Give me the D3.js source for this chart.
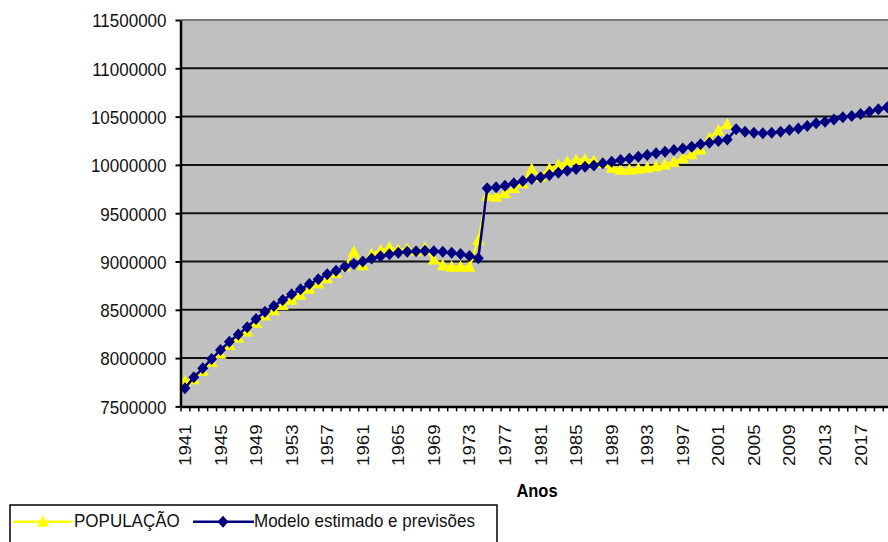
<!DOCTYPE html>
<html><head><meta charset="utf-8">
<script src="https://cdn.jsdelivr.net/npm/d3@7"></script>
<style>html,body{margin:0;padding:0;background:#fff;}svg{display:block;}</style>
</head><body>
<svg id="c" width="888" height="542"></svg>
<script>
const years = d3.range(1941, 2021);
const populacao = [7760,7780,7870,7960,8045,8135,8210,8275,8365,8440,8495,8550,8605,8657,8717,8771,8827,8880,8950,9100,
  8960,9075,9115,9145,9120,9130,9110,9140,9020,8960,8945,8945,8945,9220,9680,9670,9706,9760,9810,9957,
  9877,9964,9998,10033,10050,10055,10040,10020,9970,9950,9950,9960,9970,9985,10005,10030,10070,10110,10160,10275,
  10355,10420].map(v => v * 1000);
const modelo = [7687,7801,7894,7990,8084,8170,8245,8320,8405,8480,8540,8601,8660,8712,8767,8816,8867,8905,8947,8974,
  9000,9030,9055,9075,9090,9100,9107,9110,9107,9100,9090,9077,9057,9033,9757,9768,9785,9809,9833,9854,
  9871,9895,9919,9940,9957,9981,9993,10016,10033,10050,10067,10085,10103,10120,10137,10154,10171,10188,10213,10230,
  10247,10264,10368,10344,10334,10327,10334,10344,10361,10378,10402,10430,10447,10471,10492,10506,10527,10550,10575,10596].map(v => v * 1000);
const yTicks = [7500000,8000000,8500000,9000000,9500000,10000000,10500000,11000000,11500000];
const xLabelYears = years.filter((y, i) => i % 4 === 0 && y <= 2017);
const seriesNames = ["POPULAÇÃO", "Modelo estimado e previsões"];
const axisTitle = "Anos";

const SY = 1.1;
const FONT = "'Liberation Sans', Arial, sans-serif";
const TRI = "M0,-6.5L6,5L-6,5Z";
const DIA = "M0,-6L5.5,0L0,6L-5.5,0Z";
const svg = d3.select("#c");
svg.append("rect").attr("width", 888).attr("height", 542).attr("fill", "#fff");

const L = 180.5, T = 20, B = 406.4, STEP = 8.89;
const R = L + STEP * years.length;
const x = d3.scaleBand().domain(years).range([L, R]).padding(0);
const xc = d => x(d) + x.bandwidth() / 2;
const y = d3.scaleLinear().domain([7500000, 11500000]).range([B, T]);

// plot area
svg.append("rect").attr("x", L).attr("y", T).attr("width", R - L).attr("height", B - T).attr("fill", "#c0c0c0");
// gridlines
svg.append("g").selectAll("line").data(yTicks.slice(1, -1)).join("line")
  .attr("x1", L).attr("x2", R).attr("y1", d => y(d)).attr("y2", d => y(d))
  .attr("stroke", "#111").attr("stroke-width", 2);
svg.append("line").attr("x1", L).attr("x2", R).attr("y1", T).attr("y2", T)
  .attr("stroke", "#7a7a7a").attr("stroke-width", 2);

// series lines
const line = d3.line().x((d, i) => xc(years[i])).y(d => y(d));
svg.append("path").datum(populacao).attr("d", line).attr("fill", "none")
  .attr("stroke", "#ffff00").attr("stroke-width", 2.5);
svg.append("g").selectAll("path").data(populacao).join("path")
  .attr("transform", (d, i) => `translate(${xc(years[i])},${y(d)})`)
  .attr("d", TRI).attr("fill", "#ffff00");

svg.append("path").datum(modelo).attr("d", line).attr("fill", "none")
  .attr("stroke", "#000080").attr("stroke-width", 2.5);
svg.append("g").selectAll("path").data(modelo).join("path")
  .attr("transform", (d, i) => `translate(${xc(years[i])},${y(d)})`)
  .attr("d", DIA).attr("fill", "#000080");

// y axis
const ya = svg.append("g").attr("transform", `translate(${L},0)`)
  .call(d3.axisLeft(y).tickValues(yTicks).tickSize(5).tickSizeOuter(0).tickFormat(d3.format("d")));
ya.select(".domain").attr("stroke", "#000").attr("stroke-width", 2.5);
ya.selectAll(".tick line").attr("stroke", "#000").attr("stroke-width", 2);
ya.selectAll(".tick text")
  .attr("x", null).attr("dy", null).attr("y", 6.2)
  .attr("transform", `translate(-14,0) scale(1,${SY})`)
  .attr("text-anchor", "end").attr("fill", "#111")
  .style("font-family", FONT).style("font-size", "17px");

// x axis: ticks at category boundaries
const xb = d3.scaleLinear().domain([0, years.length]).range([L, R]);
const xa = svg.append("g").attr("transform", `translate(0,${B})`)
  .call(d3.axisBottom(xb).tickValues(d3.range(years.length + 1)).tickSize(5).tickSizeOuter(0).tickFormat(""));
xa.select(".domain").attr("stroke", "#000").attr("stroke-width", 2.5);
xa.selectAll(".tick line").attr("stroke", "#000").attr("stroke-width", 1.5);

const xl = svg.append("g").attr("transform", `translate(0,${B})`)
  .call(d3.axisBottom(x).tickValues(xLabelYears).tickSize(0));
xl.select(".domain").remove();
xl.selectAll(".tick text")
  .attr("x", null).attr("dy", null).attr("y", 6)
  .attr("transform", `translate(0,18) scale(1,${SY}) rotate(-90)`)
  .attr("text-anchor", "end").attr("fill", "#111")
  .style("font-family", FONT).style("font-size", "17px");

// axis title
svg.append("text").text(axisTitle)
  .attr("transform", `translate(537,497) scale(1,${SY})`)
  .attr("text-anchor", "middle").attr("fill", "#000")
  .style("font-family", FONT).style("font-size", "16.5px").style("font-weight", "bold");

// legend
const lg = svg.append("g");
lg.append("rect").attr("x", 10).attr("y", 505).attr("width", 487).attr("height", 50)
  .attr("fill", "#fff").attr("stroke", "#000").attr("stroke-width", 1.5);
const ly = 521.7;
lg.append("line").attr("x1", 13).attr("x2", 72).attr("y1", ly).attr("y2", ly)
  .attr("stroke", "#ffff00").attr("stroke-width", 2.5);
lg.append("path").attr("transform", `translate(43,${ly})`).attr("d", TRI).attr("fill", "#ffff00");
lg.append("text").text(seriesNames[0]).attr("transform", `translate(74,527) scale(1,${SY})`)
  .attr("fill", "#111").style("font-family", FONT).style("font-size", "17px");
lg.append("line").attr("x1", 193).attr("x2", 254).attr("y1", ly).attr("y2", ly)
  .attr("stroke", "#000080").attr("stroke-width", 2.5);
lg.append("path").attr("transform", `translate(223,${ly})`).attr("d", DIA).attr("fill", "#000080");
lg.append("text").text(seriesNames[1]).attr("transform", `translate(254,527) scale(1,${SY})`)
  .attr("fill", "#111").style("font-family", FONT).style("font-size", "17px");
</script>
</body></html>
